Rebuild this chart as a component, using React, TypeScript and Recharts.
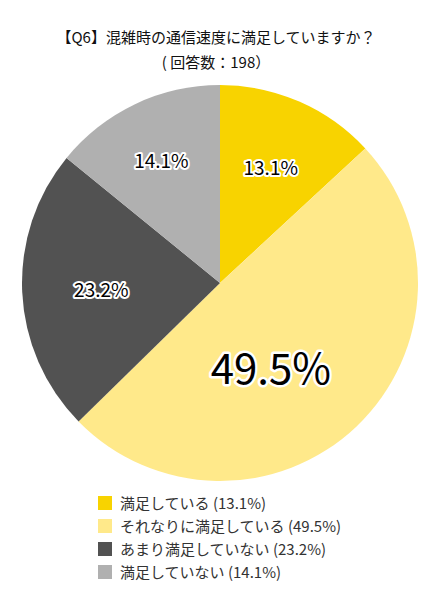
import React from "react";
import { PieChart, Pie, Cell } from "recharts";

const categories = ["満足している", "それなりに満足している", "あまり満足していない", "満足していない"];
const values = [13.1, 49.5, 23.2, 14.1];
const colors = ["#F8D300", "#FFE98A", "#525252", "#B0B0B0"];
const labelRadius = [0.64, 0.49, 0.6, 0.69];
const labelAngleShift = [0, -12, 0, 0];
const labelSize = [19, 42, 19, 19];

const data = categories.map((name, i) => ({ name, value: values[i] }));
const FONT = "'Noto Sans CJK JP', 'Noto Sans', sans-serif";
const RAD = Math.PI / 180;

const renderLabel = (props: any) => {
  const { cx, cy, midAngle, outerRadius, index, value } = props;
  const a = (midAngle + labelAngleShift[index]) * RAD;
  const r = outerRadius * labelRadius[index];
  const x = cx + r * Math.cos(a);
  const y = cy - r * Math.sin(a);
  return (
    <text
      x={x}
      y={y}
      textAnchor="middle"
      dominantBaseline="central"
      fontFamily={FONT}
      fontSize={labelSize[index]}
      fill="#000"
      stroke="#fff"
      strokeWidth={labelSize[index] > 30 ? 5 : 4}
      strokeLinejoin="round"
      paintOrder="stroke"
    >
      {`${value.toFixed(1)}%`}
    </text>
  );
};

export default function App() {
  return (
    <div style={{ position: "absolute", left: 0, top: 0, width: 440, height: 600, background: "#fff" }}>
      <div
        style={{
          position: "absolute",
          left: 0,
          top: 24,
          width: 432,
          textAlign: "center",
          fontFamily: FONT,
          fontSize: 15,
          lineHeight: "25px",
          color: "#111",
        }}
      >
        <div>【Q6】混雑時の通信速度に満足していますか？</div>
        <div style={{ fontSize: 15 }}>( 回答数：198）</div>
      </div>
      <PieChart width={440} height={600} margin={{ top: 0, right: 0, bottom: 0, left: 0 }}>
        <Pie
          data={data}
          dataKey="value"
          nameKey="name"
          cx={220}
          cy={283}
          outerRadius={198}
          startAngle={90}
          endAngle={-270}
          stroke="none"
          label={renderLabel}
          labelLine={false}
          isAnimationActive={false}
        >
          {data.map((d, i) => (
            <Cell key={d.name} fill={colors[i]} />
          ))}
        </Pie>
      </PieChart>
      <div
        style={{
          position: "absolute",
          left: 98,
          top: 491,
          width: 320,
          fontFamily: FONT,
          fontSize: 15,
          color: "#333",
        }}
      >
        {categories.map((c, i) => (
          <div key={c} style={{ display: "flex", alignItems: "center", height: 23 }}>
            <div style={{ width: 14, height: 14, background: colors[i], marginRight: 8 }} />
            <span>{`${c} (${values[i].toFixed(1)}%)`}</span>
          </div>
        ))}
      </div>
    </div>
  );
}
